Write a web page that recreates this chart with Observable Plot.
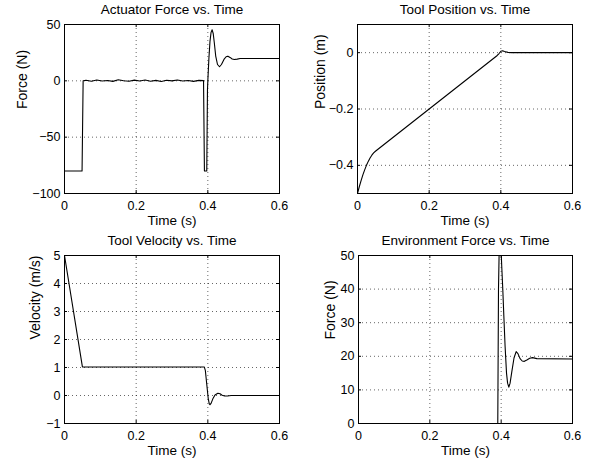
<!DOCTYPE html>
<html>
<head>
<meta charset="utf-8">
<script src="https://cdn.jsdelivr.net/npm/d3@7"></script>
<script src="https://cdn.jsdelivr.net/npm/@observablehq/plot@0.6"></script>
<style>
  html, body { margin: 0; padding: 0; background: #fff; }
  #fig { position: relative; width: 595px; height: 461px; background: #fff; font-family: "Liberation Sans", Arial, sans-serif; }
  #fig svg { position: absolute; background: #fff; }
  #fig svg text { font-weight: normal; }
</style>
</head>
<body>
<div id="fig"></div>
<script>
// ---- shared time ticks ----
const timeTicks = [0, 0.2, 0.4, 0.6];

// ---- Actuator Force vs. Time ----
const actuatorT = [0, 0.049, 0.052, 0.06, 0.075, 0.09, 0.105, 0.12, 0.135, 0.15, 0.165, 0.18, 0.195, 0.21, 0.225, 0.24, 0.255, 0.27, 0.285, 0.3, 0.315, 0.33, 0.345, 0.36, 0.375, 0.388,
  0.3905, 0.397, 0.399, 0.4, 0.403, 0.406, 0.409, 0.412, 0.415, 0.418, 0.422, 0.427, 0.4326, 0.438, 0.445, 0.451, 0.456, 0.462, 0.468, 0.474, 0.482, 0.49, 0.6];
const actuatorF = [-80, -80, 0, 0.5, -0.3, 0.8, -0.2, 0.3, -0.5, 0.9, 0.1, -0.4, 0.6, -0.1, 0.7, -0.3, 0.4, -0.6, 0.5, 0.0, 0.8, -0.2, 0.3, -0.5, 0.4, 0.2,
  -80, -80, -8, 0, 20, 35, 43, 45.3, 42, 34, 22, 14.5, 12.5, 14.5, 19, 21.4, 21.9, 20.8, 19.4, 18.9, 19.3, 19.8, 19.8];
const actuatorTicks = [-100, -50, 0, 50];

// ---- Tool Position vs. Time ----
const positionT = [0, 0.005, 0.01, 0.015, 0.02, 0.025, 0.03, 0.035, 0.04, 0.045, 0.05, 0.39, 0.395, 0.4, 0.405, 0.41, 0.42, 0.43, 0.6];
const positionX = [-0.5, -0.476, -0.454, -0.434, -0.416, -0.4, -0.386, -0.374, -0.364, -0.356, -0.35, -0.01, -0.003, 0.005, 0.007, 0.004, 0.001, 0, 0];
const positionTicks = [-0.4, -0.2, 0];

// ---- Tool Velocity vs. Time ----
const velocityT = [0, 0.05, 0.39, 0.393, 0.397, 0.401, 0.404, 0.406, 0.409, 0.414, 0.42, 0.428, 0.434, 0.44, 0.447, 0.455, 0.465, 0.6];
const velocityV = [5, 1.02, 1.02, 0.9, 0.4, -0.1, -0.3, -0.33, -0.28, -0.12, 0.02, 0.08, 0.06, 0.01, -0.02, -0.02, 0, 0];
const velocityTicks = [-1, 0, 1, 2, 3, 4, 5];

// ---- Environment Force vs. Time ----
const envT = [0, 0.3905, 0.3925, 0.3945, 0.397, 0.3995, 0.4015, 0.4045, 0.4075, 0.411, 0.415, 0.418, 0.4215, 0.425, 0.43, 0.436, 0.442, 0.447, 0.453, 0.459, 0.465, 0.472, 0.48, 0.488, 0.5, 0.6];
const envF = [0, 0, 40, 52, 55, 52.5, 47, 40, 32, 23, 15, 12, 10.8, 12, 15.5, 19.5, 21.4, 20.8, 19.3, 18.6, 18.5, 18.9, 19.4, 19.6, 19.3, 19.2];
const envTicks = [0, 10, 20, 30, 40, 50];

const fmt = d3.format("~g");
const FONT = "'Liberation Sans', Arial, Helvetica, sans-serif";
const TICK_FS = 12.5, LABEL_FS = 13.5, YLABEL_FS = 14;

function panel(o) {
  const plotW = o.width - o.ml - o.mr;
  const plotH = o.height - o.mt - o.mb;
  const idx = d3.range(o.t.length);
  const gridStyle = {stroke: "#000", strokeOpacity: 0.6, strokeDasharray: "1,3", strokeWidth: 1};
  const svg = Plot.plot({
    width: o.width,
    height: o.height,
    marginLeft: o.ml, marginRight: o.mr, marginTop: o.mt, marginBottom: o.mb,
    style: {fontFamily: FONT, fontSize: TICK_FS + "px", color: "#000", background: "#fff"},
    x: {domain: [0, 0.6]},
    y: {domain: o.yDomain},
    marks: [
      Plot.gridX(timeTicks, gridStyle),
      Plot.gridY(o.yTicks, gridStyle),
      Plot.tickX(timeTicks, {x: d => d, insetTop: plotH - 3, stroke: "#000"}),
      Plot.tickX(timeTicks, {x: d => d, insetBottom: plotH - 3, stroke: "#000"}),
      Plot.tickY(o.yTicks, {y: d => d, insetRight: plotW - 3, stroke: "#000"}),
      Plot.tickY(o.yTicks, {y: d => d, insetLeft: plotW - 3, stroke: "#000"}),
      Plot.line(idx, {x: i => o.t[i], y: i => o.v[i], stroke: "#000", strokeWidth: 1.1, clip: true}),
      Plot.frame({stroke: "#000", strokeWidth: 1}),
      Plot.axisX(timeTicks, {tickSize: 0, tickPadding: 8, tickFormat: fmt, label: null, fontSize: TICK_FS}),
      Plot.axisY(o.yTicks, {tickSize: 0, tickPadding: 4, tickFormat: fmt, label: null, fontSize: TICK_FS}),
      Plot.text([o.title], {text: d => d, frameAnchor: "top", dy: -15, lineAnchor: "middle", fontSize: LABEL_FS}),
      Plot.text([o.xlabel], {text: d => d, frameAnchor: "bottom", dy: o.xlabelDy, lineAnchor: "middle", fontSize: LABEL_FS}),
      Plot.text([o.ylabel], {text: d => d, frameAnchor: "left", dx: -o.ylabelDx, rotate: -90, lineAnchor: "middle", fontSize: YLABEL_FS})
    ]
  });
  svg.style.left = o.left + "px";
  svg.style.top = o.top + "px";
  return svg;
}

const fig = document.getElementById("fig");
fig.append(panel({left: 0, top: 0, width: 297, height: 230, ml: 64, mr: 18, mt: 24, mb: 37,
  title: "Actuator Force vs. Time", xlabel: "Time (s)", ylabel: "Force (N)", xlabelDy: 27, ylabelDx: 42,
  t: actuatorT, v: actuatorF, yDomain: [-100, 50], yTicks: actuatorTicks}));
fig.append(panel({left: 297, top: 0, width: 298, height: 230, ml: 60, mr: 23, mt: 24, mb: 37,
  title: "Tool Position vs. Time", xlabel: "Time (s)", ylabel: "Position (m)", xlabelDy: 27, ylabelDx: 37,
  t: positionT, v: positionX, yDomain: [-0.5, 0.1], yTicks: positionTicks}));
fig.append(panel({left: 0, top: 230, width: 297, height: 231, ml: 64, mr: 18, mt: 25, mb: 38,
  title: "Tool Velocity vs. Time", xlabel: "Time (s)", ylabel: "Velocity (m/s)", xlabelDy: 27, ylabelDx: 29,
  t: velocityT, v: velocityV, yDomain: [-1, 5], yTicks: velocityTicks}));
fig.append(panel({left: 297, top: 230, width: 298, height: 231, ml: 61, mr: 23, mt: 25, mb: 38,
  title: "Environment Force vs. Time", xlabel: "Time (s)", ylabel: "Force (N)", xlabelDy: 27, ylabelDx: 28,
  t: envT, v: envF, yDomain: [0, 50], yTicks: envTicks}));
</script>
</body>
</html>
